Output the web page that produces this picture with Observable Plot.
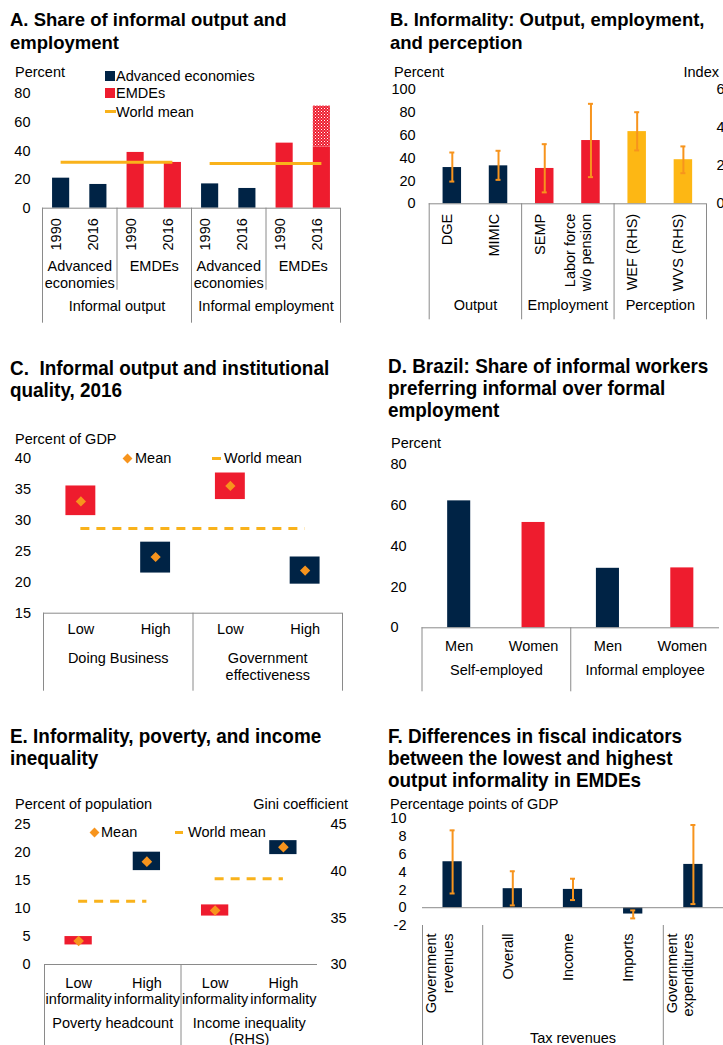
<!DOCTYPE html>
<html>
<head>
<meta charset="utf-8">
<script src="https://cdn.jsdelivr.net/npm/d3@7"></script>
<script src="https://cdn.jsdelivr.net/npm/@observablehq/plot@0.6"></script>
<style>
  html, body { margin: 0; padding: 0; background: #fff; }
  body { position: relative; width: 723px; height: 1045px; overflow: hidden;
         font-family: 'Liberation Sans', Arial, Helvetica, sans-serif; color: #000; }
  .title { position: absolute; font-weight: bold; white-space: pre; }
  .tA { font-size: 18.5px; line-height: 22.7px; }
  .tC { font-size: 21px; line-height: 22px; transform: scaleX(0.9); transform-origin: 0 0; }
  .lbl { position: absolute; font-size: 14.5px; white-space: pre; line-height: 16px; }
  .sw { position: absolute; }
</style>
</head>
<body>
<svg width="0" height="0" style="position:absolute">
  <defs>
    <pattern id="hatchRed" width="3" height="3" patternUnits="userSpaceOnUse">
      <rect width="3" height="3" fill="#EE1C2E"></rect>
      <rect x="0" y="0" width="1" height="1" fill="#ffffff"></rect>
      <rect x="1.5" y="1.5" width="1" height="1" fill="#f7c3c7"></rect>
    </pattern>
  </defs>
</svg>
<script>
// ================= DATA =================
// Panel A
const aYears = ["1990", "2016", "1990", "2016", "1990", "2016", "1990", "2016"];
const aEconomies = ["Advanced\neconomies", "EMDEs", "Advanced\neconomies", "EMDEs"];
const aMeasures = ["Informal output", "Informal employment"];
const aShares = [21.0, 16.6, 39.0, 32.0, 17.0, 13.8, 45.5, 42.7];
const aShareUpper = [null, null, null, null, null, null, null, 71.4];
const aWorldMean = [32.2, 31.3];
const aLegend = ["Advanced economies", "EMDEs", "World mean"];
const aTicks = [0, 20, 40, 60, 80];

// Panel B
const bLabels = ["DGE", "MIMIC", "SEMP", "Labor force\nw/o pension", "WEF (RHS)", "WVS (RHS)"];
const bGroups = ["Output", "Employment", "Perception"];
const bGroupSizes = [2, 2, 2];
const bValues = [31.8, 33.3, 31.0, 55.5, 3.80, 2.32];
const bLow = [19.5, 21.0, 10.0, 23.4, 2.81, 1.61];
const bHigh = [45.0, 46.5, 52.3, 87.7, 4.82, 3.02];
const bRHS = [false, false, false, false, true, true];
const bTicksL = [0, 20, 40, 60, 80, 100];
const bTicksR = [0, 2, 4, 6];

// Panel C
const cLabels = ["Low", "High", "Low", "High"];
const cGroups = ["Doing Business", "Government\neffectiveness"];
const cMean = [33.1, 24.1, 35.6, 21.9];
const cTop = [35.6, 26.5, 37.7, 24.1];
const cBottom = [30.8, 21.5, 33.4, 19.7];
const cWorldMean = 28.7;
const cTicks = [15, 20, 25, 30, 35, 40];

// Panel D
const dLabels = ["Men", "Women", "Men", "Women"];
const dGroups = ["Self-employed", "Informal employee"];
const dValues = [62.3, 51.7, 29.2, 29.4];
const dTicks = [0, 20, 40, 60, 80];

// Panel E
const eLabels = ["Low\ninformality", "High\ninformality", "Low\ninformality", "High\ninformality"];
const eGroups = ["Poverty headcount", "Income inequality\n(RHS)"];
const eMean = [4.2, 18.4, 35.8, 42.6];
const eTop = [5.0, 20.1, 36.4, 43.3];
const eBottom = [3.5, 16.8, 35.2, 41.8];
const eRHS = [false, false, true, true];
const eWorldMean = [11.3, 39.2];
const eTicksL = [0, 5, 10, 15, 20, 25];
const eTicksR = [30, 35, 40, 45];

// Panel F
const fLabels = ["Government\nrevenues", "Overall", "Income", "Imports", "Government\nexpenditures"];
const fGroupName = "Tax revenues";
const fValues = [5.17, 2.14, 2.06, -0.71, 4.87];
const fLow = [1.6, 0.26, 0.86, -1.2, 0.41];
const fHigh = [8.7, 4.1, 3.26, -0.3, 9.3];
const fTicks = [-2, 0, 2, 4, 6, 8, 10];

// ================= STYLE =================
const NAVY = "#002345", RED = "#EE1C2E", ORANGE = "#F7941D", GOLD = "#FDB714", WM = "#F9B21B", AXIS = "#8a8a8a";
const FONT = "'Liberation Sans', Arial, Helvetica, sans-serif";
const FS = 14.5;
const baseStyle = {fontFamily: FONT, fontSize: FS + "px", color: "#000", background: "transparent", overflow: "visible"};

function place(node, left, top) {
  node.style.position = "absolute";
  node.style.left = left + "px";
  node.style.top = top + "px";
  document.body.appendChild(node);
}
function label(text, x, y, anchor = "start") {
  const d = document.createElement("div");
  d.className = "lbl";
  d.textContent = text;
  d.style.left = x + "px";
  d.style.top = y + "px";
  d.style.transform = anchor === "end" ? "translate(-100%,-50%)" : anchor === "middle" ? "translate(-50%,-50%)" : "translate(0,-50%)";
  document.body.appendChild(d);
}
function title(lines, x, y, cls) {
  const d = document.createElement("div");
  d.className = "title " + cls;
  d.textContent = lines.join("\n");
  d.style.left = x + "px";
  d.style.top = y + "px";
  document.body.appendChild(d);
}
function swatch(x, y, w, h, color, rotate) {
  const d = document.createElement("div");
  d.className = "sw";
  d.style.left = x + "px"; d.style.top = y + "px";
  d.style.width = w + "px"; d.style.height = h + "px";
  d.style.background = color;
  if (rotate) d.style.transform = "rotate(45deg)";
  document.body.appendChild(d);
}
function spans(sizes) {
  let s = 0;
  return sizes.map((n) => { const o = {start: s, end: s + n - 1, center: s + (n - 1) / 2, lo: s - 0.5, hi: s + n - 0.5}; s += n; return o; });
}

// ================= TITLES =================
title(["A. Share of informal output and", "employment"], 10, 9.3, "tA");
title(["B. Informality: Output, employment,", "and perception"], 390, 9.3, "tA");
title(["C.  Informal output and institutional", "quality, 2016"], 10, 356.5, "tC");
title(["D. Brazil: Share of informal workers", "preferring informal over formal", "employment"], 388, 354.5, "tC");
title(["E. Informality, poverty, and income", "inequality"], 10, 724.5, "tC");
title(["F. Differences in fiscal indicators", "between the lowest and highest", "output informality in EMDEs"], 388, 724.5, "tC");

// ================= PANEL A =================
{
  const econColor = (name) => name.startsWith("Advanced") ? NAVY : RED;
  const econSpans = spans(aEconomies.map(() => 2));
  const measSpans = spans(aMeasures.map(() => 4));
  const rows = aShares.map((v, i) => ({i, year: aYears[i], value: v, upper: aShareUpper[i], color: econColor(aEconomies[Math.floor(i / 2)])}));
  const econ = aEconomies.map((name, k) => ({name, c: econSpans[k].center}));
  const meas = aMeasures.map((name, k) => ({name, c: measSpans[k].center, x1: measSpans[k].start, x2: measSpans[k].end, wm: aWorldMean[k]}));
  const outer = [measSpans[0].lo, ...measSpans.map((s) => s.hi)];
  const inner = econSpans.map((s) => s.hi).filter((b) => !outer.includes(b));
  const hw = 0.23;
  const p = Plot.plot({
    width: 360, height: 260, marginTop: 33.3, marginBottom: 112.3, marginLeft: 42, marginRight: 20,
    x: {domain: [-0.5, rows.length - 0.5], axis: null},
    y: {domain: [aTicks[0], aTicks[aTicks.length - 1]], axis: null},
    style: baseStyle,
    marks: [
      Plot.axisY(aTicks, {tickSize: 0, tickPadding: 12, label: null}),
      Plot.rect(rows, {x1: (d) => d.i - hw, x2: (d) => d.i + hw, y1: 0, y2: "value", fill: "color"}),
      Plot.rect(rows.filter((d) => d.upper != null), {x1: (d) => d.i - hw, x2: (d) => d.i + hw, y1: "value", y2: "upper", fill: "url(#hatchRed)"}),
      Plot.ruleY(meas, {y: "wm", x1: "x1", x2: "x2", stroke: WM, strokeWidth: 3}),
      Plot.ruleY([0], {stroke: AXIS}),
      Plot.ruleX(inner, {y1: 0, y2: 0, insetBottom: -82, stroke: AXIS}),
      Plot.ruleX(outer, {y1: 0, y2: 0, insetBottom: -115, stroke: AXIS}),
      Plot.text(rows, {x: "i", text: "year", frameAnchor: "bottom", rotate: -90, textAnchor: "end", dy: 10}),
      Plot.text(econ, {x: "c", text: "name", frameAnchor: "bottom", lineAnchor: "top", lineHeight: 1.15, dy: 51}),
      Plot.text(meas, {x: "c", text: "name", frameAnchor: "bottom", lineAnchor: "top", dy: 93})
    ]
  });
  place(p, 0, 60);
  label("Percent", 15, 72.3);
  swatch(105, 70.7, 10, 10, NAVY);
  swatch(105, 88.3, 10, 10, RED);
  swatch(105, 110.2, 11, 3, WM);
  label(aLegend[0], 116, 75.7);
  label(aLegend[1], 116, 93.3);
  label(aLegend[2], 116, 111.7);
}

// ================= PANEL B =================
{
  const k = 100 / bTicksR[bTicksR.length - 1];
  const gSpans = spans(bGroupSizes);
  const colors = [NAVY, RED, GOLD];
  const groupOf = (i) => gSpans.findIndex((s) => i >= s.start && i <= s.end);
  const rows = bLabels.map((label, i) => {
    const f = bRHS[i] ? k : 1;
    return {i, label, value: bValues[i] * f, lo: bLow[i] * f, hi: bHigh[i] * f, color: colors[groupOf(i)]};
  });
  const groups = bGroups.map((name, j) => ({name, c: gSpans[j].center}));
  const bounds = [gSpans[0].lo, ...gSpans.map((s) => s.hi)];
  const hw = 0.2;
  const p = Plot.plot({
    width: 361, height: 260, marginTop: 29.3, marginBottom: 116.7, marginLeft: 66.7, marginRight: 17,
    x: {domain: [-0.5, rows.length - 0.5], axis: null},
    y: {domain: [bTicksL[0], bTicksL[bTicksL.length - 1]], axis: null},
    style: baseStyle,
    marks: [
      Plot.axisY(bTicksL, {tickSize: 0, tickPadding: 13.5, label: null}),
      Plot.text(bTicksR, {y: (d) => d * k, text: (d) => String(d), frameAnchor: "right", textAnchor: "start", dx: 10}),
      Plot.rect(rows, {x1: (d) => d.i - hw, x2: (d) => d.i + hw, y1: 0, y2: "value", fill: "color"}),
      Plot.ruleX(rows, {x: "i", y1: "lo", y2: "hi", stroke: ORANGE, strokeWidth: 2}),
      Plot.ruleY(rows, {y: "lo", x1: "i", x2: "i", insetLeft: -2.5, insetRight: -2.5, stroke: ORANGE, strokeWidth: 2}),
      Plot.ruleY(rows, {y: "hi", x1: "i", x2: "i", insetLeft: -2.5, insetRight: -2.5, stroke: ORANGE, strokeWidth: 2}),
      Plot.ruleY([0], {stroke: AXIS}),
      Plot.ruleX(bounds, {y1: 0, y2: 0, insetBottom: -116, stroke: AXIS}),
      Plot.text(rows, {x: "i", text: "label", frameAnchor: "bottom", rotate: -90, textAnchor: "end", lineHeight: 1.1, dy: 10}),
      Plot.text(groups, {x: "c", text: "name", frameAnchor: "bottom", lineAnchor: "top", dy: 96})
    ]
  });
  place(p, 362, 60);
  label("Percent", 394, 72.3);
  label("Index", 719, 72.3, "end");
}

// ================= PANEL C =================
{
  const gSpans = spans(cGroups.map(() => 2));
  const rows = cLabels.map((label, i) => ({i, label, mean: cMean[i], top: cTop[i], bottom: cBottom[i], color: label === "Low" ? RED : NAVY}));
  const groups = cGroups.map((name, j) => ({name, c: gSpans[j].center}));
  const bounds = [gSpans[0].lo, ...gSpans.map((s) => s.hi)];
  const hw = 0.2;
  const y0 = cTicks[0];
  const p = Plot.plot({
    width: 360, height: 272, marginTop: 38.3, marginBottom: 79.3, marginLeft: 43, marginRight: 18,
    x: {domain: [-0.5, rows.length - 0.5], axis: null},
    y: {domain: [y0, cTicks[cTicks.length - 1]], axis: null},
    style: baseStyle,
    marks: [
      Plot.axisY(cTicks, {tickSize: 0, tickPadding: 12.5, label: null}),
      Plot.rect(rows, {x1: (d) => d.i - hw, x2: (d) => d.i + hw, y1: "bottom", y2: "top", fill: "color"}),
      Plot.ruleY([cWorldMean], {y: (d) => d, x1: 0, x2: rows.length - 1, stroke: WM, strokeWidth: 3, strokeDasharray: "9,7"}),
      Plot.dot(rows, {x: "i", y: "mean", symbol: "diamond2", r: 4.6, fill: ORANGE, stroke: null}),
      Plot.ruleY([y0], {stroke: AXIS}),
      Plot.ruleX(bounds, {y1: y0, y2: y0, insetBottom: -78, stroke: AXIS}),
      Plot.text(rows, {x: "i", text: "label", frameAnchor: "bottom", lineAnchor: "top", dy: 10.6}),
      Plot.text(groups, {x: "c", text: "name", frameAnchor: "bottom", lineAnchor: "top", lineHeight: 1.17, dy: 37.3})
    ]
  });
  place(p, 0, 420);
  label("Percent of GDP", 15, 439);
  swatch(124, 455, 7, 7, ORANGE, true);
  label("Mean", 135, 458.3);
  swatch(212, 457, 9, 3, WM);
  label("World mean", 224, 458.3);
}

// ================= PANEL D =================
{
  const gSpans = spans(dGroups.map(() => 2));
  const rows = dLabels.map((label, i) => ({i, label, value: dValues[i], color: label === "Men" ? NAVY : RED}));
  const groups = dGroups.map((name, j) => ({name, c: gSpans[j].center}));
  const bounds = [gSpans[0].lo, gSpans[0].hi];
  const hw = 0.155;
  const p = Plot.plot({
    width: 361, height: 272, marginTop: 44.3, marginBottom: 64.7, marginLeft: 59.5, marginRight: 4,
    x: {domain: [-0.5, rows.length - 0.5], axis: null},
    y: {domain: [dTicks[0], dTicks[dTicks.length - 1]], axis: null},
    style: baseStyle,
    marks: [
      Plot.text(dTicks, {y: (d) => d, text: (d) => String(d), frameAnchor: "left", textAnchor: "start", dx: -31.5}),
      Plot.rect(rows, {x1: (d) => d.i - hw, x2: (d) => d.i + hw, y1: 0, y2: "value", fill: "color"}),
      Plot.ruleY([0], {stroke: AXIS}),
      Plot.ruleX(bounds, {y1: 0, y2: 0, insetBottom: -64, stroke: AXIS}),
      Plot.text(rows, {x: "i", text: "label", frameAnchor: "bottom", lineAnchor: "top", dy: 12.7}),
      Plot.text(groups, {x: "c", text: "name", frameAnchor: "bottom", lineAnchor: "top", dy: 37.4})
    ]
  });
  place(p, 362, 420);
  label("Percent", 391, 442.7);
}

// ================= PANEL E =================
{
  const gSpans = spans(eGroups.map(() => 2));
  const lMax = eTicksL[eTicksL.length - 1];
  const rMin = eTicksR[0], rMax = eTicksR[eTicksR.length - 1];
  const toL = (g) => (g - rMin) * lMax / (rMax - rMin);
  const rows = eLabels.map((label, i) => {
    const f = eRHS[i] ? toL : (v) => v;
    return {i, label, mean: f(eMean[i]), top: f(eTop[i]), bottom: f(eBottom[i]), color: label.startsWith("Low") ? RED : NAVY};
  });
  const groups = eGroups.map((name, j) => ({name, c: gSpans[j].center}));
  const wm = gSpans.map((s, j) => ({v: j === 0 ? eWorldMean[j] : toL(eWorldMean[j]), x1: s.start, x2: s.end}));
  const bounds = [gSpans[0].lo, gSpans[0].hi];
  const hw = 0.2;
  const p = Plot.plot({
    width: 360, height: 255, marginTop: 34.3, marginBottom: 81, marginLeft: 44, marginRight: 43,
    x: {domain: [-0.5, rows.length - 0.5], axis: null},
    y: {domain: [eTicksL[0], lMax], axis: null},
    style: baseStyle,
    marks: [
      Plot.axisY(eTicksL, {tickSize: 0, tickPadding: 14, label: null}),
      Plot.text(eTicksR, {y: (d) => toL(d), text: (d) => String(d), frameAnchor: "right", textAnchor: "start", dx: 13}),
      Plot.rect(rows, {x1: (d) => d.i - hw, x2: (d) => d.i + hw, y1: "bottom", y2: "top", fill: "color"}),
      Plot.ruleY(wm, {y: "v", x1: "x1", x2: "x2", stroke: WM, strokeWidth: 3, strokeDasharray: "9,7"}),
      Plot.dot(rows, {x: "i", y: "mean", symbol: "diamond2", r: 4.8, fill: ORANGE, stroke: null}),
      Plot.ruleY([0], {stroke: AXIS}),
      Plot.ruleX(bounds, {y1: 0, y2: 0, insetBottom: -82, stroke: AXIS}),
      Plot.text(rows, {x: "i", text: "label", frameAnchor: "bottom", lineAnchor: "top", lineHeight: 1.12, dy: 11.7}),
      Plot.text(groups, {x: "c", text: "name", frameAnchor: "bottom", lineAnchor: "top", lineHeight: 1.12, dy: 51.7})
    ]
  });
  place(p, 0, 790);
  label("Percent of population", 15, 804);
  label("Gini coefficient", 348, 804, "end");
  swatch(90.5, 829, 7, 7, ORANGE, true);
  label("Mean", 101, 832.3);
  swatch(175, 831, 8, 3, WM);
  label("World mean", 188, 832.3);
}

// ================= PANEL F =================
{
  const rows = fLabels.map((label, i) => ({i, label, value: fValues[i], lo: fLow[i], hi: fHigh[i]}));
  const taxIdx = [1, 2, 3];
  const group = [{name: fGroupName, c: (taxIdx[0] + taxIdx[taxIdx.length - 1]) / 2}];
  const bounds = [-0.5, taxIdx[0] - 0.5, taxIdx[taxIdx.length - 1] + 0.5];
  const y0 = fTicks[0];
  const hw = 0.16;
  const p = Plot.plot({
    width: 361, height: 255, marginTop: 28.3, marginBottom: 120, marginLeft: 60, marginRight: 0,
    x: {domain: [-0.5, rows.length - 0.5], axis: null},
    y: {domain: [y0, fTicks[fTicks.length - 1]], axis: null},
    style: baseStyle,
    marks: [
      Plot.axisY(fTicks, {tickSize: 0, tickPadding: 16, label: null, tickFormat: (d) => String(d)}),
      Plot.rect(rows, {x1: (d) => d.i - hw, x2: (d) => d.i + hw, y1: 0, y2: "value", fill: NAVY}),
      Plot.ruleX(rows, {x: "i", y1: "lo", y2: "hi", stroke: ORANGE, strokeWidth: 2}),
      Plot.ruleY(rows, {y: "lo", x1: "i", x2: "i", insetLeft: -2.5, insetRight: -2.5, stroke: ORANGE, strokeWidth: 2}),
      Plot.ruleY(rows, {y: "hi", x1: "i", x2: "i", insetLeft: -2.5, insetRight: -2.5, stroke: ORANGE, strokeWidth: 2}),
      Plot.ruleY([0], {stroke: AXIS}),
      Plot.ruleX(bounds, {y1: y0, y2: y0, insetBottom: -121, stroke: AXIS}),
      Plot.text(rows, {x: "i", text: "label", frameAnchor: "bottom", rotate: -90, textAnchor: "end", lineHeight: 1.12, dy: 8}),
      Plot.text(group, {x: "c", text: "name", frameAnchor: "bottom", lineAnchor: "top", dy: 107})
    ]
  });
  place(p, 362, 790);
  label("Percentage points of GDP", 390, 804);
}
</script>
</body>
</html>
